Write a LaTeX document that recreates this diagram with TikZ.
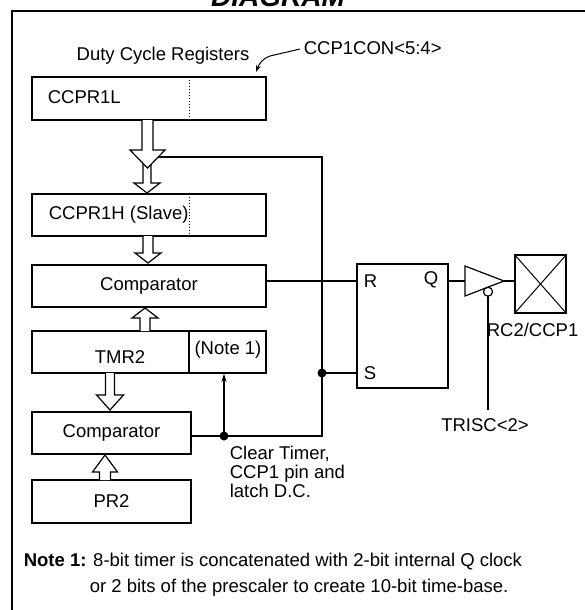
\documentclass[tikz,border=0pt]{standalone}
\usepackage{fontspec}
\setmainfont{Liberation Sans}
\usetikzlibrary{arrows.meta}
\tikzset{every path/.style={black,line width=1.6pt},
  reg/.style={draw,rectangle,inner sep=0pt,font=\fontsize{18.5}{19}\selectfont},
  lbl/.style={inner sep=0pt,font=\fontsize{18.5}{19}\selectfont}}
% hollow bus arrow: x, shaft start, head base, tip, shaft half width, head half width
\newcommand{\busarrow}[6]{%
  \draw[line width=1.2pt,fill=white] (#1-#5,#2) -- (#1-#5,#3) -- (#1-#6,#3) -- (#1,#4)
     -- (#1+#6,#3) -- (#1+#5,#3) -- (#1+#5,#2);}

\begin{document}
\begin{tikzpicture}[x=1pt,y=-1pt]
   \useasboundingbox (0,0) rectangle (585,610);
   \node[anchor=base,inner sep=0pt,font=\fontsize{28}{30}\selectfont\bfseries\itshape] (title) at (278,7) {DIAGRAM};
   \draw[line width=2pt] (12,620) -- (12,11) -- (600,11);
   % registers
   \node[reg,minimum width=234pt,minimum height=43pt] (ccprl) at (149,98.5) {};
   \node[reg,minimum width=234pt,minimum height=42pt] (ccprh) at (149,215) {};
   \node[reg,minimum width=234pt,minimum height=42pt] (cmpa) at (149,286) {Comparator};
   \node[reg,minimum width=234pt,minimum height=42pt] (tmr) at (149,352) {};
   \node[reg,minimum width=159pt,minimum height=42pt] (cmpb) at (111.5,433) {Comparator};
   \node[reg,minimum width=159pt,minimum height=43pt] (pr) at (111.5,501.5) {PR2};
   \draw[line width=1pt,dotted] (189,77) -- (189,120);
   \draw[line width=1pt,dotted] (189,194) -- (189,236);
   \draw (189,331) -- (189,373);
   \node[lbl,anchor=west] (lname) at (47,97) {CCPR1L};
   \node[lbl,anchor=west] (hname) at (48,215) {CCPR1H (Slave)};
   \node[lbl] (tname) at (120,357) {TMR2};
   \node[lbl] (note) at (228,350) {(Note 1)};
   \node[lbl] (duty) at (163,56) {Duty Cycle Registers};
   \node[lbl,anchor=west] (ccpcon) at (303,48) {CCP1CON<5:4>};
   \draw[line width=1pt,-{Stealth[length=7pt,width=5pt]}] (ccpcon.west) ++(-3,1) -- (270,56) .. controls (263,58) and (259,64) .. (256,72);
   % buses
   \busarrow{147}{160}{183}{193}{4}{13}
   \busarrow{147.5}{120}{150}{168}{5.5}{17.5}
   \busarrow{148}{236}{253}{263}{5}{13}
   \busarrow{145}{331}{318}{308}{5}{13}
   \busarrow{110}{373}{395}{410}{4.5}{13.5}
   \busarrow{105}{480}{472}{455}{5.5}{12.5}
   % latch and output
   \node[draw,rectangle,minimum width=91pt,minimum height=124pt] (latch) at (402.5,326) {};
   \coordinate (rpin) at (357,281);
   \coordinate (spin) at (357,373);
   \node[lbl,anchor=west] (rlab) at (363,281) {R};
   \node[lbl,anchor=west] (slab) at (363,373) {S};
   \node[lbl] (qlab) at (431,280) {Q};
   \coordinate (busjoin) at (158,157);
   \coordinate (corner) at (322,157);
   \coordinate (sdot) at (322,373);
   \coordinate (bend) at (322,436);
   \coordinate (cdot) at (224,436);
   \draw (busjoin) -- (corner) -- (bend) -- (cdot) -- (cdot -| cmpb.east);
   \draw (rpin -| cmpa.east) -- (rpin);
   \draw (sdot) -- (spin);
   \fill (sdot) circle (4.5pt);
   \fill (cdot) circle (4.5pt);
   \draw[-{Stealth[length=8pt,width=5pt]}] (cdot) -- (cdot |- tmr.south);
   \node[lbl,align=left,anchor=north west] (clr) at (229,445) {Clear Timer,\\CCP1 pin and\\latch D.C.};
   \coordinate (bufin) at (465,281);
   \coordinate (bufout) at (504,281);
   \draw (latch.east |- bufin) -- (bufin);
   \draw[line width=1.2pt] (465,266) -- (bufout) -- (465,296) -- cycle;
   \draw[line width=1.2pt] (488,291.7) circle (4.5pt);
   \coordinate (tris) at (488,410);
   \draw (488,296.2) -- (tris);
   \node[lbl] (trislab) at (485,425) {TRISC<2>};
   \node[draw,rectangle,minimum width=51pt,minimum height=58pt] (pad) at (540.5,284) {};
   \draw[line width=1pt] (pad.north west) -- (pad.south east);
   \draw[line width=1pt] (pad.north east) -- (pad.south west);
   \draw (bufout) -- (bufout -| pad.west);
   \node[lbl,anchor=west] (padlab) at (486,330) {RC2/CCP1};
   % note
   \node[lbl,anchor=base west,font=\fontsize{18.5}{19}\selectfont\bfseries] (nlab) at (23,566.5) {Note 1:};
   \node[lbl,anchor=base west] (nl1) at (nlab.base east) {\ 8-bit timer is concatenated with 2-bit internal Q clock};
   \node[lbl,anchor=base west] (nl2) at (89,592) {or 2 bits of the prescaler to create 10-bit time-base.};
\end{tikzpicture}
\end{document}
